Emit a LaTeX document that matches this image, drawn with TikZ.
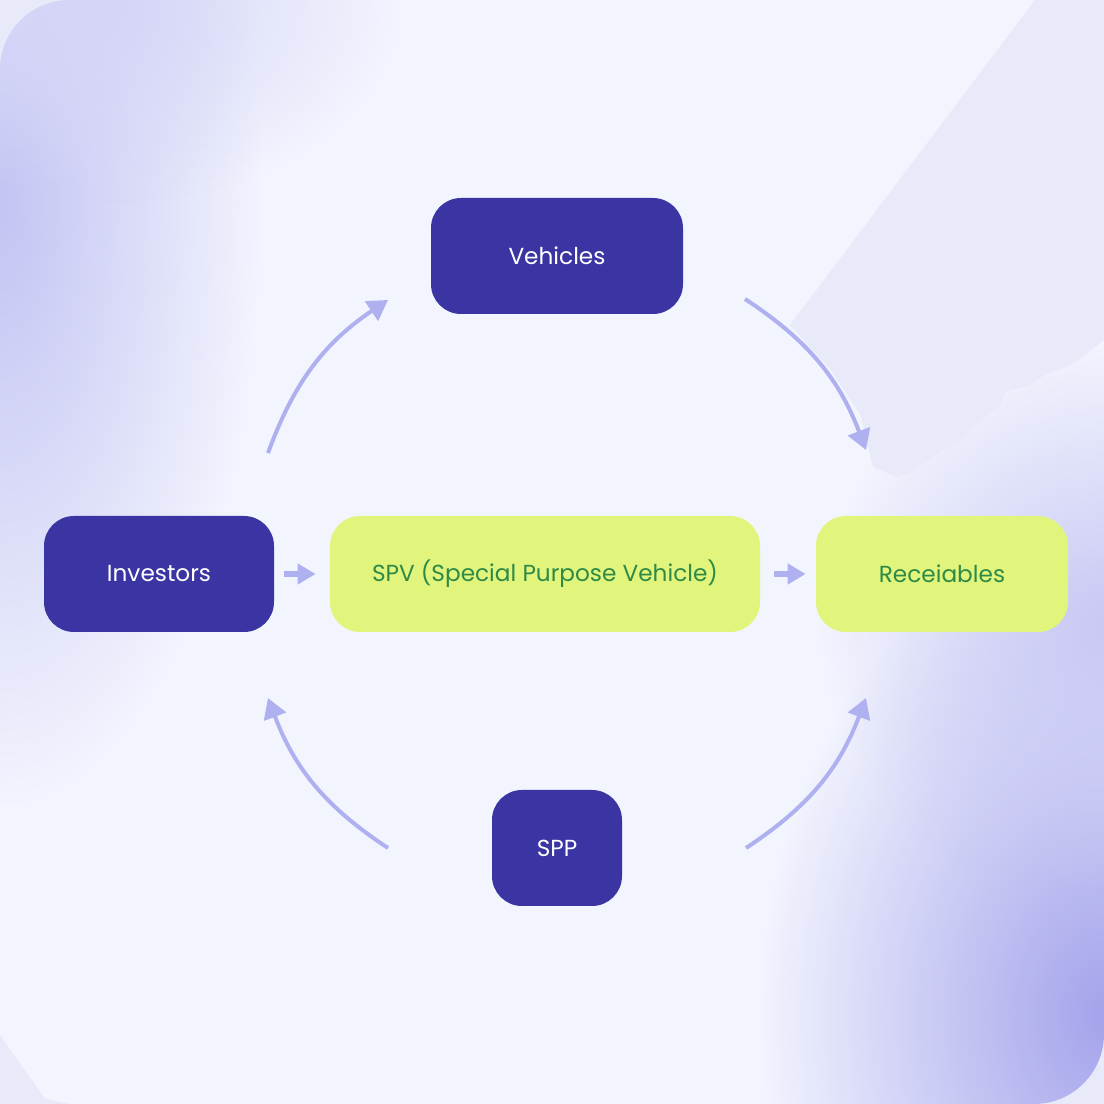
\documentclass[tikz,border=0pt]{standalone}
\usepackage{fontspec}
\setmainfont{Poppins}
\usepackage{tikz}
\usetikzlibrary{arrows.meta}
\usetikzlibrary{fadings}
\usetikzlibrary{positioning}

\definecolor{outerbg}{HTML}{E8EAFA}
\definecolor{basebg}{HTML}{F2F4FE}
\definecolor{tintleft}{HTML}{C3C4F3}
\definecolor{tintright}{HTML}{A4A3EC}
\definecolor{darkbox}{HTML}{3B35A3}
\definecolor{limebox}{HTML}{E1F47C}
\definecolor{limetext}{HTML}{2E8A46}
\definecolor{flow}{HTML}{AEB0F0}

\tikzfading[name=softblob, inner color=transparent!0, outer color=transparent!100]

\tikzset{
  darknode/.style={fill=darkbox, text=white, rounded corners=15pt,
    minimum height=58pt, font=\fontsize{11.6}{13}\selectfont},
  limenode/.style={fill=limebox, text=limetext, rounded corners=15pt,
    minimum height=58pt, font=\fontsize{11.6}{13}\selectfont},
  cyclearrow/.style={draw=flow, line width=2pt,
    -{Triangle[length=10pt, width=11.5pt]}},
  stepflow/.style={draw=flow, line width=3pt,
    -{Triangle[length=9pt, width=10pt]}},
}

\begin{document}
\begin{tikzpicture}[x=0.5pt, y=0.5pt]
    \useasboundingbox (0,0) rectangle (1104,1104);
    \fill[outerbg] (0,0) rectangle (1104,1104);

    % soft background card
    \begin{scope}
      \clip[rounded corners=35pt] (0,0) rectangle (1104,1104);
      \fill[basebg] (0,0) rectangle (1104,1104);
      \fill[tintleft, path fading=softblob] (-260,300) rectangle (260,1500);
      \fill[tintleft!70, path fading=softblob] (-200,900) rectangle (400,1300);
      \fill[tintright, path fading=softblob] (760,-380) rectangle (1450,560);
      \fill[tintright!60, path fading=softblob] (820,200) rectangle (1400,760);
      \fill[outerbg] (1035,1104) -- (790,779) -- (830,735) -- (860,690)
        -- (873,637) -- (897,627) -- (915,634) -- (935,649) -- (960,664)
        -- (975,679) -- (1000,699) -- (1005,712) -- (1030,719)
        -- (1045,729) -- (1070,739) -- (1085,749) -- (1104,764)
        -- (1104,1104) -- cycle;
    \end{scope}
    \fill[outerbg] (0,69) -- (45,5) -- (70,0) -- (0,0) -- cycle;

    % boxes
    \node[darknode, minimum width=126pt] (veh) at (557,848) {Vehicles};
    \node[darknode, minimum width=115pt] (inv) at (159,530) {Investors};
    \node[limenode, minimum width=215pt] (spv) at (545,530) {SPV (Special Purpose Vehicle)};
    \node[limenode, minimum width=126pt] (rec) at (942,530) {Receiables};
    \node[darknode, minimum width=65pt] (spp) at (557,256) {SPP};

    % ends of the round arrows
    \coordinate (invtop) at (268,651);
    \coordinate (vehleft) at (388,804);
    \coordinate (vehright) at (745,805);
    \coordinate (rectop) at (866,654);
    \coordinate (sppleft) at (388,256);
    \coordinate (invbot) at (268,406);
    \coordinate (sppright) at (746,256);
    \coordinate (recbot) at (866,406);

    \draw[cyclearrow] (invtop) to[bend left=18] (vehleft);
    \draw[cyclearrow] (vehright) to[bend left=18] (rectop);
    \draw[cyclearrow] (sppleft) to[bend left=18] (invbot);
    \draw[cyclearrow] (sppright) to[bend right=18] (recbot);

    \draw[stepflow, shorten <=5pt, shorten >=7pt] (inv) -- (spv);
    \draw[stepflow, shorten <=7pt, shorten >=5pt] (spv) -- (rec);
\end{tikzpicture}
\end{document}
